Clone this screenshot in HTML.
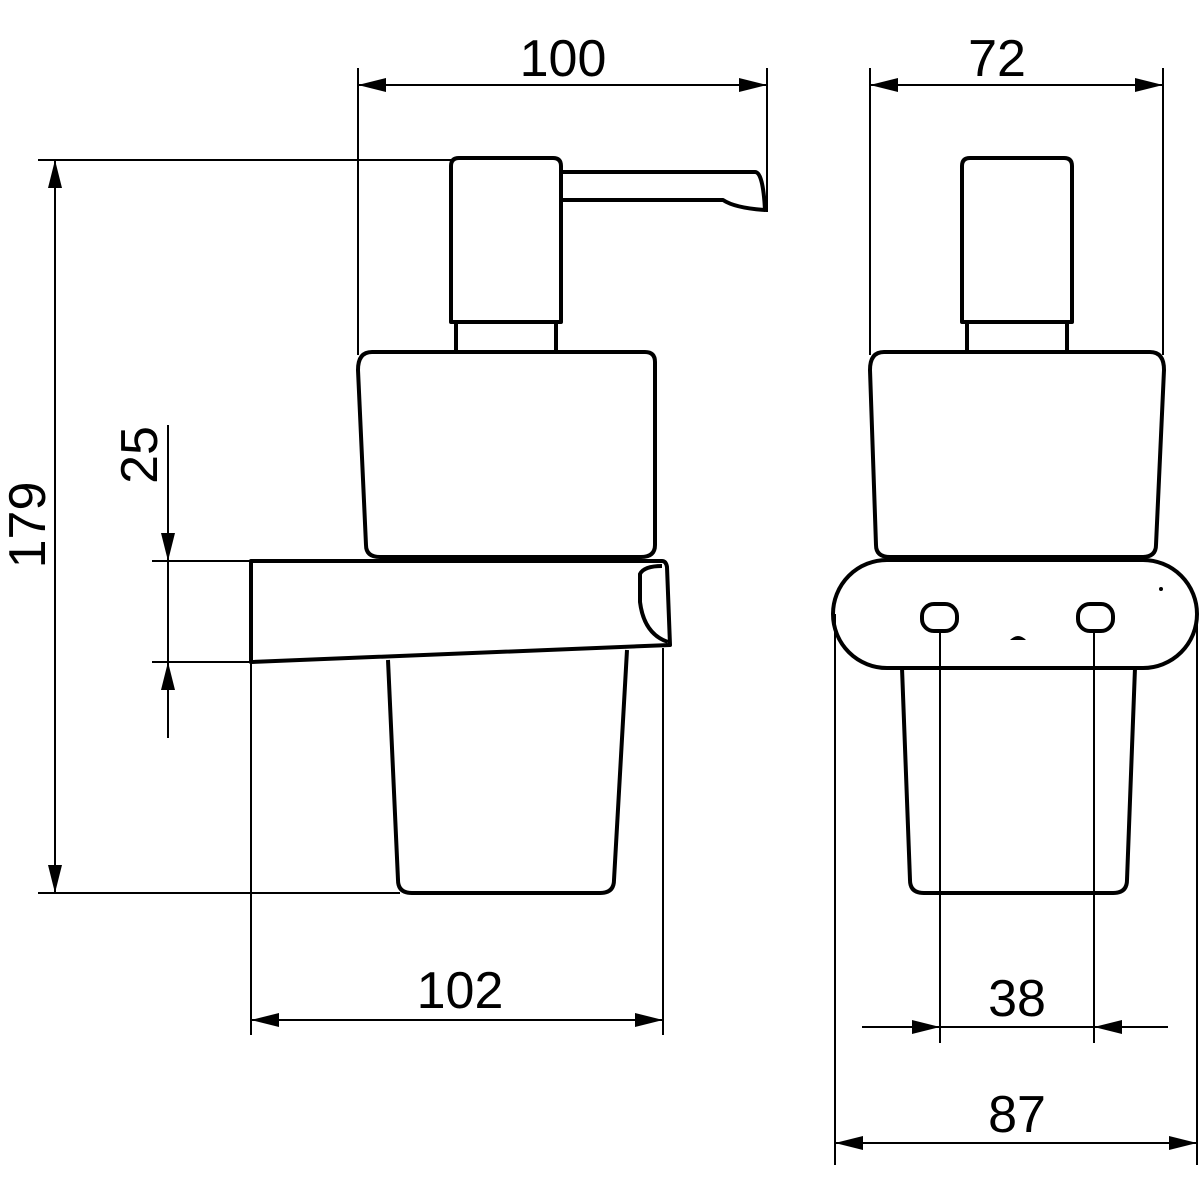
<!DOCTYPE html>
<html><head><style>body{margin:0;background:#fff}svg{display:block}text{font-family:"Liberation Sans",sans-serif;font-size:52px;fill:#000}</style></head>
<body>
<svg width="1200" height="1200" viewBox="0 0 1200 1200" xmlns="http://www.w3.org/2000/svg">
<defs>
<marker id="a" viewBox="0 0 20 10" refX="20" refY="5" markerWidth="40" markerHeight="14" markerUnits="userSpaceOnUse" orient="auto-start-reverse"><path d="M0,0L20,5L0,10z" fill="#000"/></marker>
</defs>
<g fill="none" stroke="#000" stroke-width="4" stroke-linejoin="round">
<path d="M451,322V166q0-8 8-8h94q8 0 8 8v156z" fill="#fff"/>
<path d="M561,172H755q8 0 10 38q-30-2-42-10H561" />
<rect x="456" y="322" width="100" height="30"/>
<path d="M372,352H645q10 0 10 10V545q0 12-14 12H380q-14 0-14-12L358,370q0-18 14-18z" fill="#fff"/>
<path d="M388,660L398,880q0 13 14 13H600q14 0 14-13L627,650"/>
<path d="M251,561H662q4 0 5 6L670,645L251,662z" fill="#fff"/>
<path d="M662,566q-18 0-22 8v28q4 32 28 40"/>
<path d="M962,322V166q0-8 8-8h94q8 0 8 8v156z" fill="#fff"/>
<rect x="967" y="322" width="100" height="30"/>
<path d="M884,352H1150q14 0 14 18L1156,545q0 12-14 12H890q-14 0-14-12L870,370q0-18 14-18z" fill="#fff"/>
<path d="M902,668L910,880q0 13 14 13H1113q14 0 14-13L1135,668"/>
<rect x="833" y="560" width="364" height="108" rx="54" fill="#fff"/>
<rect x="922" y="604" width="35" height="27" rx="12"/>
<rect x="1078" y="604" width="35" height="27" rx="12"/>
</g>
<path d="M1010,640q8-8 16 0z" fill="#000"/>
<circle cx="1161" cy="589" r="2" fill="#000"/>
<g fill="none" stroke="#000" stroke-width="2">
<path d="M358,68V355M767,68V212"/>
<line x1="358" y1="85" x2="767" y2="85" marker-start="url(#a)" marker-end="url(#a)"/>
<path d="M38,160H451M38,893H400"/>
<line x1="55" y1="160" x2="55" y2="893" marker-start="url(#a)" marker-end="url(#a)"/>
<path d="M152,561H251M152,662H251"/>
<line x1="168" y1="425" x2="168" y2="561" marker-end="url(#a)"/>
<line x1="168" y1="738" x2="168" y2="662" marker-end="url(#a)"/>
<line x1="168" y1="561" x2="168" y2="662"/>
<path d="M251,662V1035M663,648V1035"/>
<line x1="251" y1="1020" x2="663" y2="1020" marker-start="url(#a)" marker-end="url(#a)"/>
<path d="M870,68V355M1163,68V355"/>
<line x1="870" y1="85" x2="1163" y2="85" marker-start="url(#a)" marker-end="url(#a)"/>
<path d="M940,631V1043M1094,631V1043"/>
<line x1="862" y1="1027" x2="940" y2="1027" marker-end="url(#a)"/>
<line x1="1168" y1="1027" x2="1094" y2="1027" marker-end="url(#a)"/>
<line x1="940" y1="1027" x2="1094" y2="1027"/>
<path d="M835,614V1165M1197,614V1165"/>
<line x1="835" y1="1143" x2="1197" y2="1143" marker-start="url(#a)" marker-end="url(#a)"/>
</g>
<text x="563" y="76" text-anchor="middle">100</text>
<text x="997" y="76" text-anchor="middle">72</text>
<text x="460" y="1008" text-anchor="middle">102</text>
<text x="1017" y="1016" text-anchor="middle">38</text>
<text x="1017" y="1132" text-anchor="middle">87</text>
<text transform="translate(45,525) rotate(-90)" text-anchor="middle">179</text>
<text transform="translate(157,455) rotate(-90)" text-anchor="middle">25</text>
</svg>
</body></html>
